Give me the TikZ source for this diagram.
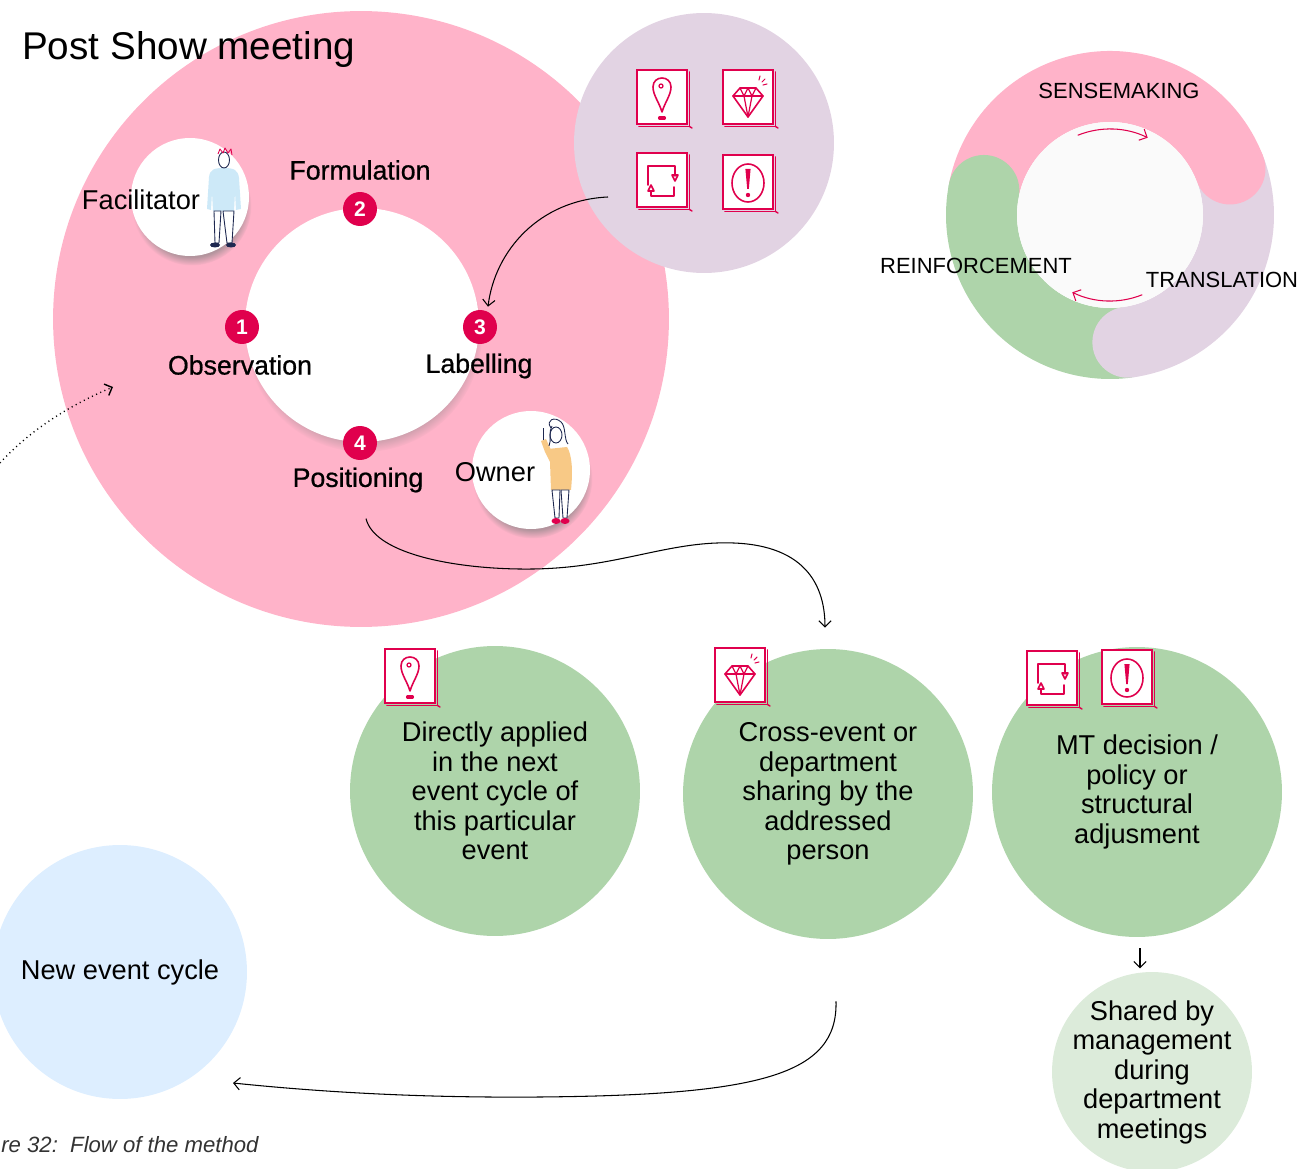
\documentclass[tikz,border=0pt]{standalone}
\usepackage{fontspec}
\setmainfont{Liberation Sans}
\newfontfamily\mediumfont{Liberation Sans}[FakeBold=0.7]
\usetikzlibrary{arrows.meta,positioning,calc,shadows}

\definecolor{meetpink}{RGB}{255,179,201}
\definecolor{mauve}{RGB}{226,211,227}
\definecolor{leaf}{RGB}{174,212,170}
\definecolor{paleleaf}{RGB}{220,235,218}
\definecolor{skyblue}{RGB}{221,238,255}
\definecolor{crimson}{RGB}{224,0,77}
\definecolor{navy}{RGB}{30,40,80}
\definecolor{sweater}{RGB}{205,233,248}
\definecolor{mustard}{RGB}{248,201,134}

\newcommand{\fs}[2]{\fontsize{#1}{#2}\selectfont}

\begin{document}
\begin{tikzpicture}[
  x=0.02cm, y=-0.02cm,
  >={Straight Barb[length=3.5pt,width=7pt]},
  disc/.style={circle, inner sep=0pt, fill=#1},
  whitedisc/.style={circle, inner sep=0pt, fill=white,
    circular drop shadow={shadow xshift=1pt, shadow yshift=-5pt, shadow scale=1.01, opacity=.6}},
  badge/.style={circle, inner sep=0pt, minimum size=0.68cm, fill=crimson, text=white, font=\bfseries\fs{12}{12}},
  stage/.style={font=\mediumfont\fs{15.2}{17}},
  role/.style={font=\fs{15.5}{17}},
  outcome/.style={disc=leaf, minimum size=5.8cm, align=center, font=\fs{15.5}{16.8}},
  phase/.style={font=\fs{12.5}{14}},
  flow/.style={->, line width=0.6pt},
  ink/.style={crimson, line width=0.9pt, line cap=round, line join=round},
  iconframe/.pic={
    \draw[crimson, line width=1pt, fill=white] (-25,-27) rectangle (25,27);
    \draw[crimson, line width=1pt, line cap=round] (-23,29.5) -- (27.5,29.5) -- (27.5,-25);
    \draw[crimson, line width=0.8pt, line cap=round] (27.5,29.5) -- (30,31);
  },
  pinicon/.pic={
    \pic {iconframe};
    \draw[ink] (0,15) .. controls (-3,5) and (-9,-2) .. (-9,-10)
      .. controls (-9,-22) and (9,-22) .. (9,-10) .. controls (9,-2) and (3,5) .. (0,15);
    \draw[ink, line width=0.7pt] (-1,-11) circle[radius=2];
    \draw[ink, line width=1.8pt] (-2.5,21) -- (2.5,21);
  },
  gemicon/.pic={
    \pic {iconframe};
    \draw[ink] (-8,-9) -- (8,-9) -- (15,-1) -- (0,20) -- (-15,-1) -- cycle;
    \draw[ink] (-15,-1) -- (15,-1);
    \draw[ink, line width=0.7pt] (-8,-9) -- (-4,-1) -- (0,-9) -- (4,-1) -- (8,-9);
    \draw[ink, line width=0.7pt] (-4,-1) -- (0,20) -- (4,-1);
    \draw[ink, line width=0.6pt] (11,-17) -- (12,-21) (14,-15) -- (17,-18) (15,-12) -- (19,-13);
  },
  loopicon/.pic={
    \pic {iconframe};
    \draw[ink] (13,-4) -- (13,-14) -- (-14,-14) -- (-14,5);
    \draw[ink] (10,-5) -- (16,-5) -- (13,1) -- cycle;
    \draw[ink] (12,7) -- (12,16) -- (-11,16) -- (-11,11);
    \draw[ink] (-14,11) -- (-8,11) -- (-11,5) -- cycle;
  },
  alerticon/.pic={
    \pic {iconframe};
    \draw[ink] (0,1) ellipse[x radius=16, y radius=19];
    \fill[crimson] (-2.6,-13) -- (2.6,-13) -- (0.8,7) -- (-0.8,7) -- cycle;
    \fill[crimson] (0,13) circle[radius=2.2];
  },
]
\useasboundingbox (0,0) rectangle (1303,1169);
\clip (0,0) rectangle (1303,1169);

% post show meeting
\node[disc=meetpink, minimum size=12.32cm] (meeting) at (361,319) {};
\node[disc=mauve, minimum size=5.2cm] (ideas) at (704,143) {};
\node[whitedisc, minimum size=4.68cm] (cycle) at (362,325) {};
\node[whitedisc, minimum size=2.36cm] (facil) at (190,197) {};
\node[whitedisc, minimum size=2.36cm] (owner) at (531,470) {};

\node[anchor=west, font=\fs{22}{26}] (title) at (16,50) {Post Show meeting};

\node[badge] (b1) at (242,327) {1};
\node[badge] (b2) at (360,209) {2};
\node[badge] (b3) at (480,327) {3};
\node[badge] (b4) at (360,443) {4};
\node[stage] (formul) at (360,170) {Formulation};
\node[stage] (observ) at (240,365) {Observation};
\node[stage] (label) at (479,366) {Labelling};
\node[stage] (posn) at (358,480) {Positioning};

\node[role] (facilname) at (141,200) {Facilitator};
\node[role] (ownername) at (495,472) {Owner};

% facilitator figure
\begin{scope}[navy, line width=0.5pt, line join=round]
  \fill[sweater] (209,177) .. controls (210,169) and (215,168) .. (224,168)
    .. controls (234,168) and (238,170) .. (239,178) -- (241,209) -- (236,210)
    -- (235,192) -- (234,211) -- (213,211) -- (212,192) -- (211,210) -- (207,209) -- cycle;
  \draw[fill=white] (214,211) -- (221,211) -- (219,243) -- (215,243) -- cycle;
  \draw[fill=white] (223,211) -- (234,211) -- (232,243) -- (227,243) -- cycle;
  \fill (215,245) ellipse[x radius=5, y radius=2.5];
  \fill (231,245) ellipse[x radius=5, y radius=2.5];
  \draw[fill=white] (224,160) ellipse[x radius=5.5, y radius=8];
  \draw[crimson] (218,154) -- (220,149) -- (223,153) -- (225,148) -- (228,153) -- (231,149) -- (232,155);
\end{scope}

% owner figure
\begin{scope}[navy, line width=0.5pt, line join=round]
  \fill[mustard] (548,449) -- (567,447) .. controls (572,455) and (573,470) .. (571,490)
    -- (551,490) -- (550,462) -- (545,452) -- (541,441) -- (546,439) -- (551,450) -- cycle;
  \draw (543,440) -- (543,428);
  \draw[fill=white] (552,490) -- (560,490) -- (559,518) -- (555,518) -- cycle;
  \draw[fill=white] (561,490) -- (569,490) -- (567,518) -- (563,518) -- cycle;
  \fill[crimson] (556,521) ellipse[x radius=4.5, y radius=3];
  \fill[crimson] (565,521) ellipse[x radius=4.5, y radius=3];
  \draw[fill=white] (556,435) ellipse[x radius=6, y radius=8];
  \draw (551,428) .. controls (545,420) and (555,416) .. (561,422) .. controls (566,426) and (564,440) .. (568,444);
  \draw (552,426) .. controls (548,432) and (552,440) .. (549,446);
\end{scope}

% method cards
\pic at (662,97) {pinicon};
\pic at (748,97) {gemicon};
\pic at (662,180) {loopicon};
\pic at (748,182) {alerticon};

% sensemaking ring
\begin{scope}[shift={(1110,215)}, yscale=-1]
  \draw[line width=1.42cm, meetpink] (21:128.5) arc[start angle=21, end angle=169, radius=128.5];
  \draw[line width=1.42cm, leaf] (169:128.5) arc[start angle=169, end angle=278, radius=128.5];
  \draw[line width=1.42cm, mauve] (278:128.5) arc[start angle=278, end angle=381, radius=128.5];
  \fill[meetpink] (21:128.5) circle[radius=35.5];
  \fill[leaf] (169:128.5) circle[radius=35.5];
  \fill[mauve] (278:128.5) circle[radius=35.5];
  \fill[white!98!black] (0,0) circle[radius=93];
  \draw[crimson, ->, line width=0.6pt] (112:86) arc[start angle=112, end angle=64, radius=86];
  \draw[crimson, ->, line width=0.6pt] (-68:86) arc[start angle=-68, end angle=-116, radius=86];
\end{scope}
\node[phase] (sense) at (1119,91) {SENSEMAKING};
\node[phase] (reinf) at (976,266) {REINFORCEMENT};
\node[phase] (transl) at (1222,280) {TRANSLATION};

% outcomes
\node[outcome] (direct) at (495,791) {Directly applied\\in the next\\event cycle of\\this particular\\event};
\node[outcome] (share) at (828,794) {Cross-event or\\department\\sharing by the\\addressed\\person};
\node[outcome] (policy) at (1137,792) {MT decision /\\policy or\\structural\\adjusment};
\node[disc=paleleaf, minimum size=4cm, inner sep=-12pt, align=center, font=\fs{15.5}{16.8}] (mgmt) at (1152,1072)
  {Shared by\\management\\during\\department\\meetings};
\node[disc=skyblue, minimum size=5.08cm, font=\fs{15.5}{17}] (newcycle) at (120,972) {New event cycle};

\pic at (410,676) {pinicon};
\pic at (740,675) {gemicon};
\pic at (1052,678) {loopicon};
\pic at (1127,677) {alerticon};

% connectors
\coordinate (loopin) at (0,463);
\draw[flow, dotted, line width=0.8pt] (loopin) .. controls (30,430) and (70,405) .. ($(meeting.center)+(-248,68)$);
\draw[flow] ($(ideas.center)+(-96,54)$) .. controls (540,200) and (495,250) .. ($(b3.north)+(8,-3)$);
\draw[flow] ($(posn.south)+(8,20)$) .. controls (375,555) and (460,570) .. (533,569)
  .. controls (610,568) and (660,545) .. (717,543)
  .. controls (800,540) and (825,580) .. ($(share.north)+(-3,-21)$);
\draw[flow] ($(share.south)+(8,62)$) .. controls (838,1075) and (760,1095) .. (540,1097)
  .. controls (420,1098) and (320,1092) .. ($(newcycle.center)+(113,111)$);
\draw[flow] ($(policy.south)+(3,11)$) -- ($(policy.south)+(3,31)$);

\node[anchor=west, inner sep=0pt, font=\itshape\fs{12.6}{14}, text=black!80] (caption) at (1,1145) {re 32:\ \ Flow of the method};
\end{tikzpicture}
\end{document}
